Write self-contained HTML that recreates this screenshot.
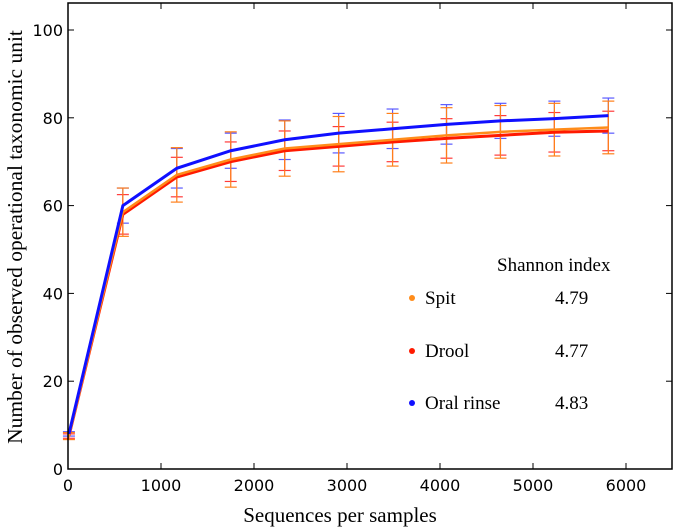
<!DOCTYPE html>
<html><head><meta charset="utf-8"><style>
body{margin:0;background:#fff}
svg{display:block}
.tick{font-family:"DejaVu Sans","Liberation Sans",sans-serif;font-size:16px;fill:#000}
.ser{font-family:"Liberation Serif",serif;fill:#000}
</style></head><body>
<svg id="chart" width="675" height="527">
<g id="plot"></g>
<rect x="68" y="3" width="604" height="466" fill="none" stroke="#000" stroke-width="1.5"/>
<text class="ser" x="340" y="522" font-size="21" text-anchor="middle">Sequences per samples</text>
<text class="ser" transform="translate(22,237) rotate(-90)" font-size="21.5" text-anchor="middle">Number of observed operational taxonomic unit</text>
<g>
<text class="ser" x="497" y="271" font-size="19">Shannon index</text>
<g><circle cx="412" cy="298" r="3" fill="#ff8c1a"/><text class="ser" x="425" y="304" font-size="19">Spit</text><text class="ser" x="555" y="304" font-size="19">4.79</text></g>
<g><circle cx="412" cy="351" r="3" fill="#ff1a00"/><text class="ser" x="425" y="357" font-size="19">Drool</text><text class="ser" x="555" y="357" font-size="19">4.77</text></g>
<g><circle cx="412" cy="403" r="3" fill="#1010ff"/><text class="ser" x="425" y="409" font-size="19">Oral rinse</text><text class="ser" x="555" y="409" font-size="19">4.83</text></g>
</g>
</svg>
<script>
const xs=[10,590,1170,1750,2330,2910,3490,4070,4650,5230,5810];
const blue=[8,60,68.5,72.5,75,76.5,77.5,78.5,79.3,79.8,80.5];
const blueErr=[0.5,4,4.5,4,4.5,4.5,4.5,4.5,4,4,4];
const spit=[7.5,58.5,67,70.5,73,74,75,76,76.8,77.3,77.8];
const spitErr=[0.8,5.5,6.2,6.3,6.3,6.3,6,6.3,6,6,6];
const drool=[7.5,58,66.5,70,72.5,73.5,74.5,75.3,76,76.7,77];
const droolErr=[0.5,4.5,4.5,4.5,4.5,4.5,4.5,4.5,4.5,4.5,4.5];
const xTicks=[0,1000,2000,3000,4000,5000,6000];
const yTicks=[0,20,40,60,80,100];
const X=v=>68+v*0.093, Y=v=>469-v*4.39;
const NS="http://www.w3.org/2000/svg";
const svg=document.getElementById('chart'), plot=document.getElementById('plot');
function mk(tag,attrs,parent){const e=document.createElementNS(NS,tag);for(const k in attrs)e.setAttribute(k,attrs[k]);(parent||svg).appendChild(e);return e;}
xTicks.forEach(t=>{
 const l=mk('line',{x1:X(t),x2:X(t),y1:469,y2:463,stroke:'#000'});
 
 
 mk('line',{x1:X(t),x2:X(t),y1:3,y2:9,stroke:'#000'});
 const tx=mk('text',{x:X(t),y:491,'text-anchor':'middle',class:'tick'});tx.textContent=t;
 
 
});
yTicks.forEach(t=>{
 const l=mk('line',{x1:68,x2:74,y1:Y(t),y2:Y(t),stroke:'#000'});
 
 
 mk('line',{x1:672,x2:666,y1:Y(t),y2:Y(t),stroke:'#000'});
 const tx=mk('text',{x:63,y:Y(t)+6,'text-anchor':'end',class:'tick'});tx.textContent=t;
 
 
});
function series(vals,errs,color,name){
 errs.forEach((e,i)=>{
  const x=X(xs[i]);
  const g=mk('g',{stroke:color,'stroke-width':1.2},plot);
  
  
  mk('line',{x1:x,x2:x,y1:Y(vals[i]-e),y2:Y(vals[i]+e)},g);
  mk('line',{x1:x-6,x2:x+6,y1:Y(vals[i]-e),y2:Y(vals[i]-e)},g);
  mk('line',{x1:x-6,x2:x+6,y1:Y(vals[i]+e),y2:Y(vals[i]+e)},g);
 });
}
function line(vals,color,name,w){
 const p=mk('polyline',{points:vals.map((v,i)=>X(xs[i])+','+Y(v)).join(' '),fill:'none',stroke:color,'stroke-width':w},plot);
 
 
}
series(blue,blueErr,'#5a5aff','oral-rinse');
series(drool,droolErr,'#ff3b3b','drool');
series(spit,spitErr,'#ff7f1a','spit');
line(drool,'#ff1a00','drool',3);
line(spit,'#ff8c1a','spit',2.5);
line(blue,'#1010ff','oral-rinse',3);
</script>
</body></html>
